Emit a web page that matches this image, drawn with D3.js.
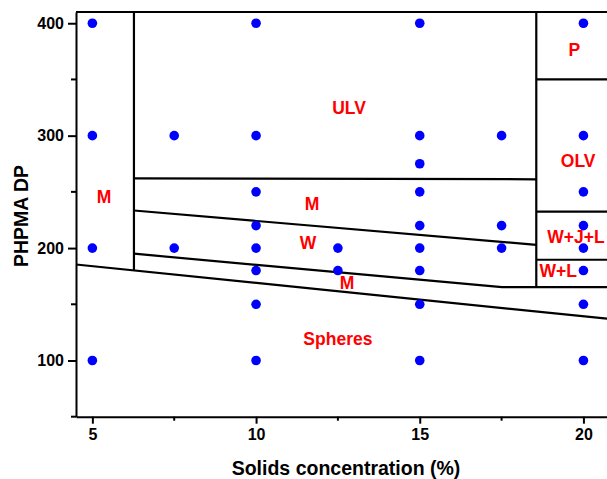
<!DOCTYPE html>
<html>
<head>
<meta charset="utf-8">
<script src="https://d3js.org/d3.v7.min.js"></script>
<style>
  body { margin: 0; background: #fff; }
  svg { display: block; }
  text { font-family: "Liberation Sans", Arial, sans-serif; font-weight: bold; }
</style>
</head>
<body>
<script>
// sample points: solids concentration (%) and the DPs tested at each
var concentrations = [5, 7.5, 10, 12.5, 15, 17.5, 20];
var dpValues = [
    [400, 300, 200, 100],
    [300, 200],
    [400, 300, 250, 220, 200, 180, 150, 100],
    [200, 180],
    [400, 300, 275, 250, 220, 200, 180, 150, 100],
    [300, 220, 200],
    [400, 300, 250, 220, 200, 180, 150, 100]
];

// phase boundaries (x = %, y = DP)
var boundaries = [
    [[4.5, 410], [20.72, 410]],
    [[6.27, 410], [6.27, 180.2]],
    [[4.5, 185.4], [20.72, 137.2]],
    [[6.27, 262], [18.56, 261.2]],
    [[6.27, 233.4], [18.56, 202.9]],
    [[6.27, 195], [17.51, 165.3], [20.72, 165.3]],
    [[18.56, 410], [18.56, 165.3]],
    [[18.56, 350], [20.72, 350]],
    [[18.56, 232.5], [20.72, 232.5]],
    [[18.56, 189.6], [20.72, 189.6]]
];

// phase labels
var phaseNames = ["M", "ULV", "M", "W", "M", "Spheres", "P", "OLV", "W+J+L", "W+L"];
var phaseX = [5.36, 12.84, 11.71, 11.59, 12.78, 12.5, 19.72, 19.84, 19.77, 19.23];
var phaseY = [245.6, 324.7, 239.4, 204.7, 169.2, 119.3, 376.3, 277.6, 209.8, 180];

var xTicks = [5, 10, 15, 20], xMinor = [7.5, 12.5, 17.5];
var yTicks = [100, 200, 300, 400], yMinor = [50, 150, 250, 350];

var margin = {top: 12, right: 0, bottom: 62.3, left: 76}
  , width = 607 - margin.left - margin.right
  , height = 479 - margin.top - margin.bottom;

var svg = d3.select("body").append("svg")
    .attr("width", 607)
    .attr("height", 479)
    .append("g")
    .attr("transform", "translate(" + margin.left + "," + margin.top + ")");

var xScale = d3.scaleLinear().domain([4.5, 20.72]).range([0, width]);
var yScale = d3.scaleLinear().domain([50, 410]).range([height, 0]);

// axes
var xAxis = svg.append("g")
    .attr("transform", "translate(0," + height + ")")
    .call(d3.axisBottom(xScale).tickValues(xTicks).tickSize(7).tickPadding(5).tickSizeOuter(0));
xAxis.selectAll(".minor").data(xMinor).enter().append("line")
    .attr("class", "minor")
    .attr("x1", function (d) { return xScale(d); })
    .attr("x2", function (d) { return xScale(d); })
    .attr("y2", 4);

var yAxis = svg.append("g")
    .call(d3.axisLeft(yScale).tickValues(yTicks).tickSize(8).tickPadding(4).tickSizeOuter(0));
yAxis.selectAll(".minor").data(yMinor).enter().append("line")
    .attr("class", "minor")
    .attr("y1", function (d) { return yScale(d); })
    .attr("y2", function (d) { return yScale(d); })
    .attr("x2", -5);

svg.selectAll(".domain, .tick line, .minor")
    .attr("stroke", "#000")
    .attr("stroke-width", 2);
svg.selectAll(".tick text")
    .attr("fill", "#000")
    .style("font-family", "'Liberation Sans', Arial, sans-serif")
    .style("font-weight", "bold")
    .style("font-size", "16px");

// phase boundaries
var line = d3.line()
    .x(function (d) { return xScale(d[0]); })
    .y(function (d) { return yScale(d[1]); });
svg.selectAll(".boundary")
    .data(boundaries)
    .enter().append("path")
    .attr("class", "boundary")
    .attr("d", line)
    .attr("fill", "none")
    .attr("stroke", "#000")
    .attr("stroke-width", 2.2);

// sample points
var points = [];
concentrations.forEach(function (c, i) {
    dpValues[i].forEach(function (dp) { points.push({x: c, y: dp}); });
});
svg.selectAll(".dot")
    .data(points)
    .enter().append("circle")
    .attr("class", "dot")
    .attr("cx", function (d) { return xScale(d.x); })
    .attr("cy", function (d) { return yScale(d.y); })
    .attr("r", 4.8)
    .style("fill", "#0000ff");

// phase labels
svg.selectAll(".phase")
    .data(phaseNames)
    .enter().append("text")
    .attr("class", "phase")
    .attr("x", function (d, i) { return xScale(phaseX[i]); })
    .attr("y", function (d, i) { return yScale(phaseY[i]); })
    .attr("dy", "0.36em")
    .attr("text-anchor", "middle")
    .style("font-size", "17.5px")
    .style("fill", "#ff0000")
    .text(function (d) { return d; });

// axis titles
svg.append("text")
    .attr("text-anchor", "middle")
    .attr("transform", "translate(" + (346 - margin.left) + "," + (475 - margin.top) + ")")
    .style("font-size", "19.5px")
    .text("Solids concentration (%)");

svg.append("text")
    .attr("text-anchor", "middle")
    .attr("transform", "translate(" + (28 - margin.left) + "," + (216 - margin.top) + ")rotate(-90)")
    .style("font-size", "19.5px")
    .text("PHPMA DP");
</script>
</body>
</html>
